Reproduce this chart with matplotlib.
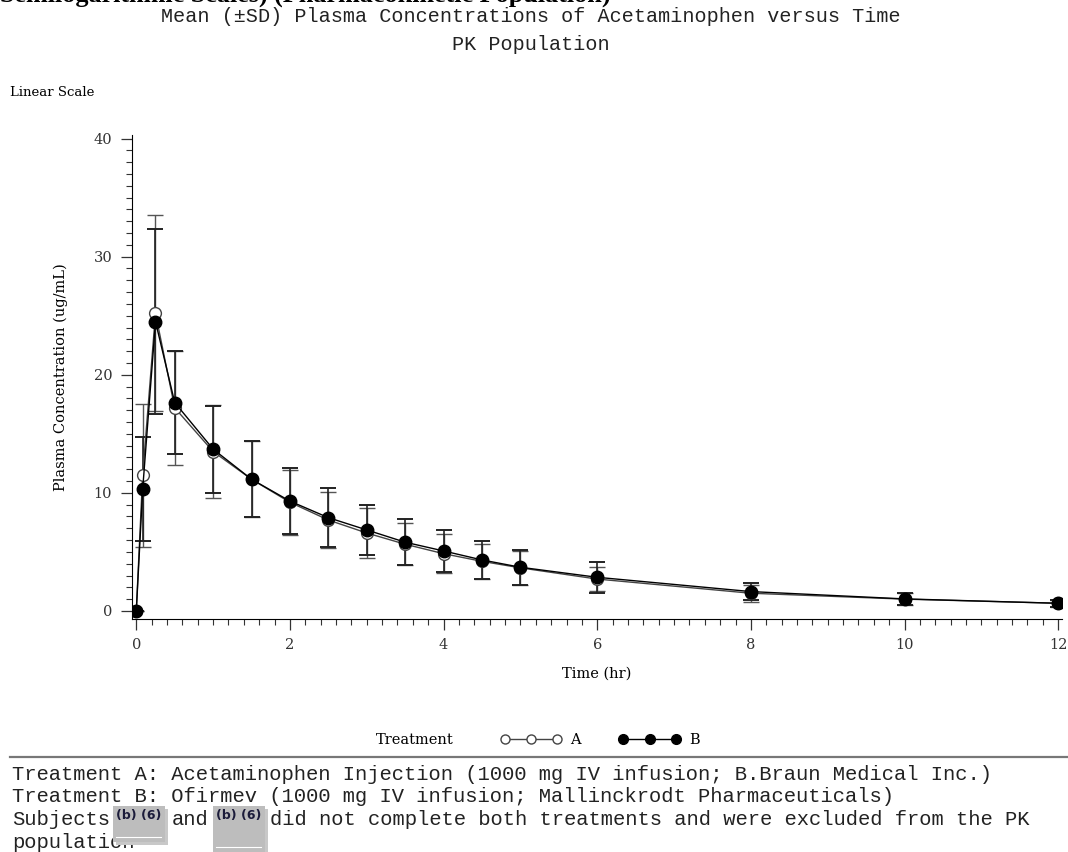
import matplotlib
matplotlib.use("Agg")
import matplotlib.pyplot as plt
from matplotlib.lines import Line2D
from matplotlib.patches import Rectangle

# time points (hr)
time = [0, 0.083, 0.25, 0.5, 1, 1.5, 2, 2.5, 3, 3.5, 4, 4.5, 5, 6, 8, 10, 12]

# Treatment A mean and SD (ug/mL)
mean_a = [0, 11.5, 25.2, 17.2, 13.5, 11.15, 9.2, 7.7, 6.6, 5.65, 4.85, 4.2, 3.65, 2.7, 1.5, 1.0, 0.65]
sd_a = [0, 6.05, 8.3, 4.8, 3.95, 3.2, 2.75, 2.4, 2.13, 1.8, 1.65, 1.5, 1.45, 1.05, 0.7, 0.5, 0.28]

# Treatment B mean and SD (ug/mL)
mean_b = [0, 10.3, 24.5, 17.65, 13.7, 11.15, 9.3, 7.9, 6.86, 5.82, 5.08, 4.32, 3.7, 2.85, 1.64, 1.02, 0.65]
sd_b = [0, 4.4, 7.85, 4.35, 3.67, 3.2, 2.78, 2.5, 2.1, 1.95, 1.75, 1.6, 1.5, 1.3, 0.75, 0.5, 0.3]

xticks = [0, 2, 4, 6, 8, 10, 12]
yticks = [0, 10, 20, 30, 40]

serif = "DejaVu Serif"
mono = "Liberation Mono"
W, H = 1068, 852

fig = plt.figure(figsize=(10.68, 8.52), dpi=100)
ax = fig.add_axes([0.1233, 0.2735, 0.8711, 0.568])

ax.errorbar(time, mean_a, yerr=sd_a, fmt="none", ecolor="#555555", elinewidth=1.0,
            capsize=6, capthick=1.0, zorder=2)
ax.errorbar(time, mean_b, yerr=sd_b, fmt="none", ecolor="#222222", elinewidth=1.2,
            capsize=6, capthick=1.4, zorder=2)
ax.plot(time, mean_a, color="#444444", lw=1.0, marker="o", ms=8.5,
        mfc="white", mec="#444444", mew=1.0, zorder=3)
ax.plot(time, mean_b, color="black", lw=1.0, marker="o", ms=9,
        mfc="black", mec="black", zorder=4)

ax.set_xlim(-0.06, 12.05)
ax.set_ylim(-0.68, 40.3)
ax.set_xticks(xticks)
ax.set_yticks(yticks)
ax.set_xticks([i * 0.2 for i in range(61)], minor=True)
ax.set_yticks(list(range(0, 41)), minor=True)
ax.spines["top"].set_visible(False)
ax.spines["right"].set_visible(False)
ax.tick_params(which="major", direction="out", length=8, width=0.9, colors="#333333",
               labelsize=10.5, pad=6)
ax.tick_params(which="minor", direction="out", length=4.5, width=0.8, color="#333333")
for lab in ax.get_xticklabels() + ax.get_yticklabels():
    lab.set_family(serif)

ax.set_xlabel("Time (hr)", family=serif, fontsize=10.5, labelpad=10)
ax.set_ylabel("Plasma Concentration (ug/mL)", family=serif, fontsize=10.5, labelpad=18)

# titles (first line is cut off at the top edge as in the source page)
fig.text(0.0, 1 - 2 / H, "Semilogarithmic Scales) (Pharmacokinetic Population)",
         family="Liberation Serif", fontsize=18.8, fontweight="bold",
         va="baseline", ha="left")
fig.text(0.497, 1 - 16 / H, "Mean (\u00b1SD) Plasma Concentrations of Acetaminophen versus Time",
         family=mono, fontsize=14.5, ha="center", va="center", color="#222222")
fig.text(0.497, 1 - 44 / H, "PK Population", family=mono, fontsize=14.5,
         ha="center", va="center", color="#222222")
fig.text(0.009, 1 - 92 / H, "Linear Scale", family=serif, fontsize=9.5,
         ha="left", va="center")

# legend
fig.text(415 / W, 1 - 740 / H, "Treatment", family=serif, fontsize=10.5,
         ha="center", va="center")
h_a = Line2D([], [], color="#444444", lw=1.0, marker="o", ms=6.5, mfc="white", mec="#444444")
h_b = Line2D([], [], color="black", lw=1.0, marker="o", ms=7, mfc="black", mec="black")
leg = fig.legend([h_a, h_b], ["A", "B"], ncol=2, numpoints=3, frameon=False,
                 loc="center", bbox_to_anchor=(600 / W, 1 - 740 / H),
                 handlelength=4.2, columnspacing=2.6, handletextpad=0.6,
                 prop={"family": serif, "size": 10.5})

fig.add_artist(Line2D([10 / W, 1.0], [1 - 757 / H] * 2, color="#777777", lw=1.6))

# footnotes, monospace so pieces are placed by character column
cw = 12.3
notes = [
    [(0, "Treatment A: Acetaminophen Injection (1000 mg IV infusion; B.Braun Medical Inc.)")],
    [(0, "Treatment B: Ofirmev (1000 mg IV infusion; Mallinckrodt Pharmaceuticals)")],
    [(0, "Subjects"), (13, "and"),
     (21, "did not complete both treatments and were excluded from the PK")],
    [(0, "population")],
]
for i, pieces in enumerate(notes):
    for col, txt in pieces:
        fig.text((12 + col * cw) / W, 1 - (774 + i * 22.8) / H, txt, family=mono,
                 fontsize=14.8, ha="left", va="center", color="#222222")

# redaction boxes
for x0, y0, w, h in [(113, 806, 52, 36), (213, 806, 52, 46)]:
    fig.add_artist(Rectangle(((x0 + 3) / W, 1 - (y0 + h + 3) / H), w / W, h / H,
                             transform=fig.transFigure, facecolor="#c8c8c8",
                             edgecolor="none", zorder=5))
    fig.add_artist(Rectangle((x0 / W, 1 - (y0 + h) / H), w / W, h / H,
                             transform=fig.transFigure, facecolor="#bdbdbd",
                             edgecolor="none", zorder=5))
    fig.add_artist(Line2D([(x0 + 3) / W, (x0 + w - 4) / W], [1 - (y0 + h - 5) / H] * 2,
                          color="white", lw=0.8, zorder=6))
    fig.text((x0 + w / 2) / W, 1 - (y0 + 9) / H, "(b) (6)", family="DejaVu Sans",
             fontsize=9, fontweight="bold", ha="center", va="center",
             color="#1c1c3a", zorder=6)

fig.savefig("out.png", dpi=100)
